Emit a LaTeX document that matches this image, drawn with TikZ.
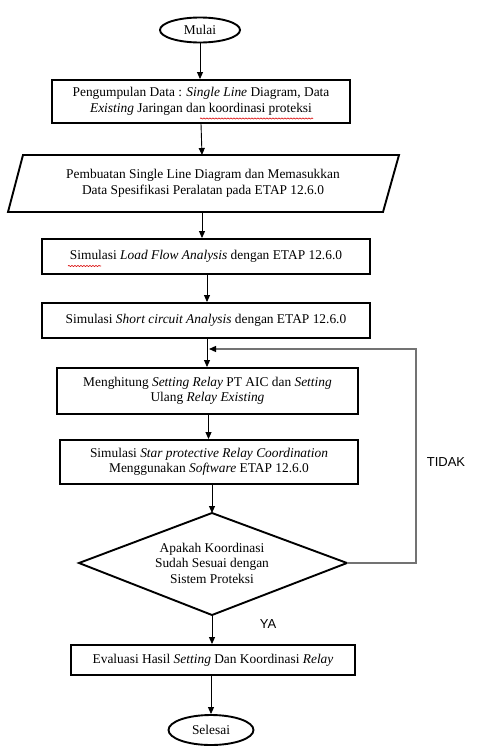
\documentclass[tikz,border=0pt]{standalone}
\usepackage{fontspec}
\setmainfont{Liberation Serif}
\newfontfamily\labelfont{Liberation Sans}
\usetikzlibrary{arrows.meta,shapes.geometric,calc,decorations.pathmorphing}
\tikzset{
  box/.style={draw,line width=1.9pt,rectangle,align=center,inner sep=0pt,font=\fontsize{13.4}{15.5}\selectfont},
  term/.style={draw,line width=1.9pt,ellipse,inner sep=0pt,font=\fontsize{13.4}{15}\selectfont},
  plain/.style={align=center,inner sep=0pt,font=\fontsize{13.4}{15.5}\selectfont},
  arr/.style={line width=0.9pt,-{Triangle[length=7pt,width=6pt]}},
  back/.style={line width=1.2pt,draw=black!55,-{Triangle[length=7pt,width=6pt,fill=black,color=black]}},
  lbl/.style={inner sep=0pt,font=\labelfont\fontsize{13}{15}\selectfont},
  squig/.style={draw=red!85!black,line width=0.6pt,decorate,decoration={snake,amplitude=0.6pt,segment length=3pt}}
}
\begin{document}
\begin{tikzpicture}[x=1pt,y=-1pt]
\useasboundingbox[fill=white] (0,0) rectangle (483,747);

\node[term,minimum width=80pt,minimum height=25pt] (mulai) at (200,30) {Mulai};

\node[box,minimum width=298pt,minimum height=43pt] (b1) at (201,101.5)
  {Pengumpulan Data : \textit{Single Line} Diagram, Data\\ \textit{Existing} Jaringan dan koordinasi proteksi};

\node[plain] (b2) at (203,183.5)
  {Pembuatan Single Line Diagram dan Memasukkan\\ Data Spesifikasi Peralatan pada ETAP 12.6.0};
\coordinate (p1) at (23,155);
\coordinate (p2) at (399,155);
\coordinate (p3) at (383,212);
\coordinate (p4) at (8,212);
\draw[line width=1.9pt,line join=miter] (p1) -- (p2) -- (p3) -- (p4) -- cycle;
\coordinate (b2top) at (202,155);
\coordinate (b2bot) at (202,212);

\node[box,minimum width=328pt,minimum height=35pt] (b3) at (206,256.5)
  {Simulasi \textit{Load Flow Analysis} dengan ETAP 12.6.0};

\node[box,minimum width=328pt,minimum height=35pt] (b4) at (206,320.5)
  {Simulasi \textit{Short circuit Analysis} dengan ETAP 12.6.0};

\node[box,minimum width=301pt,minimum height=46pt] (b5) at (207.5,391)
  {Menghitung \textit{Setting Relay} PT AIC dan \textit{Setting}\\ Ulang \textit{Relay Existing}};

\node[box,minimum width=298pt,minimum height=44pt] (b6) at (209,462)
  {Simulasi \textit{Star protective Relay Coordination}\\ Menggunakan \textit{Software} ETAP 12.6.0};

\node[plain] (dec) at (212,563)
  {Apakah Koordinasi\\ Sudah Sesuai dengan\\ Sistem Proteksi};
\coordinate (dT) at (212,513);
\coordinate (dR) at (347,563);
\coordinate (dB) at (212,615);
\coordinate (dL) at (79,563);
\draw[line width=1.9pt,line join=miter] (dT) -- (dR) -- (dB) -- (dL) -- cycle;

\node[box,minimum width=284pt,minimum height=30pt] (b7) at (213,660)
  {Evaluasi Hasil \textit{Setting} Dan Koordinasi \textit{Relay}};

\node[term,minimum width=85pt,minimum height=30pt] (selesai) at (211,730) {Selesai};

% spell-check underlines
\draw[squig] (200,118.5) -- (313,118.5);
\draw[squig] (68,266) -- (101,266);

% connectors
\draw[arr] (mulai.south) -- (mulai.south |- b1.north);
\draw[arr] (b1.south) -- (b2top);
\draw[arr] (b2bot) -- (b2bot |- b3.north);
\draw[arr] ([xshift=1pt]b3.south) -- ([xshift=1pt]b3.south |- b4.north);
\draw[arr] ([xshift=1pt]b4.south) -- ([xshift=1pt]b4.south |- b5.north);
\draw[arr] ([xshift=1pt]b5.south) -- ([xshift=1pt]b5.south |- b6.north);
\draw[arr] (b6.south -| dT) -- (dT);
\draw[arr] (dB) -- (dB |- b7.north);
\draw[arr] (b7.south -| selesai.north) -- (selesai.north);

% feedback loop
\coordinate (corner) at (416,349);
\coordinate (join) at (209,349);
\draw[back] (dR) -| (corner) -- (join);

\node[lbl] (tidak) at (446,462) {TIDAK};
\node[lbl] (ya) at (268,624) {YA};
\end{tikzpicture}
\end{document}
